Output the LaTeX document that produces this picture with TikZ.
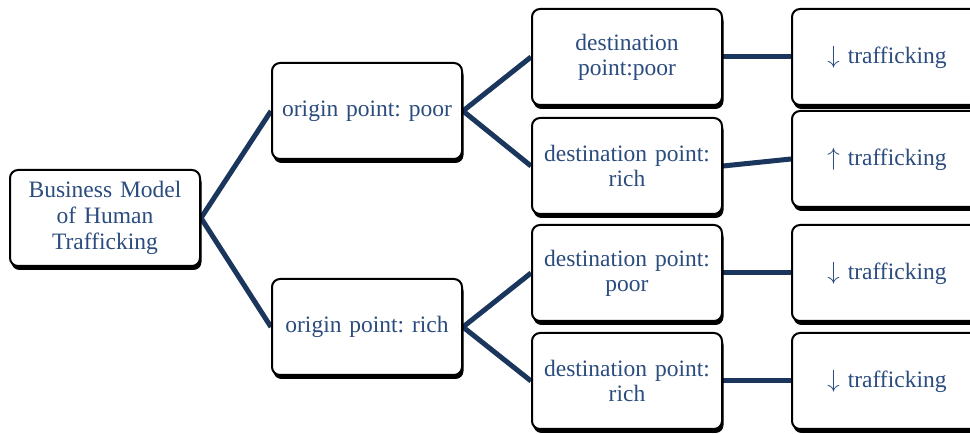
\documentclass[tikz,border=0pt]{standalone}
\usepackage{fontspec}
\setmainfont{Liberation Serif}
\frenchspacing
\usetikzlibrary{shadows,backgrounds}
\definecolor{txtblue}{HTML}{2B4C7E}
\definecolor{linknavy}{HTML}{1B365D}
\tikzset{
  treebox/.style={
    draw=black, line width=2pt, fill=white, rounded corners=8pt,
    minimum width=190pt, minimum height=96pt, inner sep=2pt,
    text width=184pt, align=center, text=txtblue,
    font=\fontsize{23.5}{25}\selectfont,
    drop shadow={shadow xshift=1.5pt, shadow yshift=-4pt, fill=black, opacity=1}
  },
  link/.style={draw=linknavy, line width=5pt}
}
\begin{document}
\begin{tikzpicture}[x=1pt,y=1pt]
  \useasboundingbox (0,0) rectangle (970,434);
  \clip (0,0) rectangle (970,434);

  % root
  \node[treebox, font=\fontsize{23.5}{26}\selectfont] (root) at (105,216) {Business Model\\of Human\\Trafficking};
  % origins
  \node[treebox] (op) at (367,323) {origin point: poor};
  \node[treebox] (or) at (367,107) {origin point: rich};
  % destinations
  \node[treebox] (d1) at (627,377) {destination\\point:poor};
  \node[treebox] (d2) at (627,268) {destination point:\\rich};
  \node[treebox] (d3) at (627,161) {destination point:\\poor};
  \node[treebox] (d4) at (627,53) {destination point:\\rich};
  % outcomes
  \node[treebox] (t1) at (887,377) {$\downarrow$ trafficking};
  \node[treebox] (t2) at (887,275) {$\uparrow$ trafficking};
  \node[treebox] (t3) at (887,161) {$\downarrow$ trafficking};
  \node[treebox] (t4) at (887,53) {$\downarrow$ trafficking};

  \begin{scope}[on background layer]
    \fill[white] (0,0) rectangle (970,434);
    \path[link] (root.east) -- (op.west);
    \path[link] (root.east) -- (or.west);
    \path[link] (op.east) -- (d1.west);
    \path[link] (op.east) -- (d2.west);
    \path[link] (or.east) -- (d3.west);
    \path[link] (or.east) -- (d4.west);
    \path[link] (d1.east) -- (t1.west);
    \path[link] (d2.east) -- (t2.west);
    \path[link] (d3.east) -- (t3.west);
    \path[link] (d4.east) -- (t4.west);
  \end{scope}
\end{tikzpicture}
\end{document}
